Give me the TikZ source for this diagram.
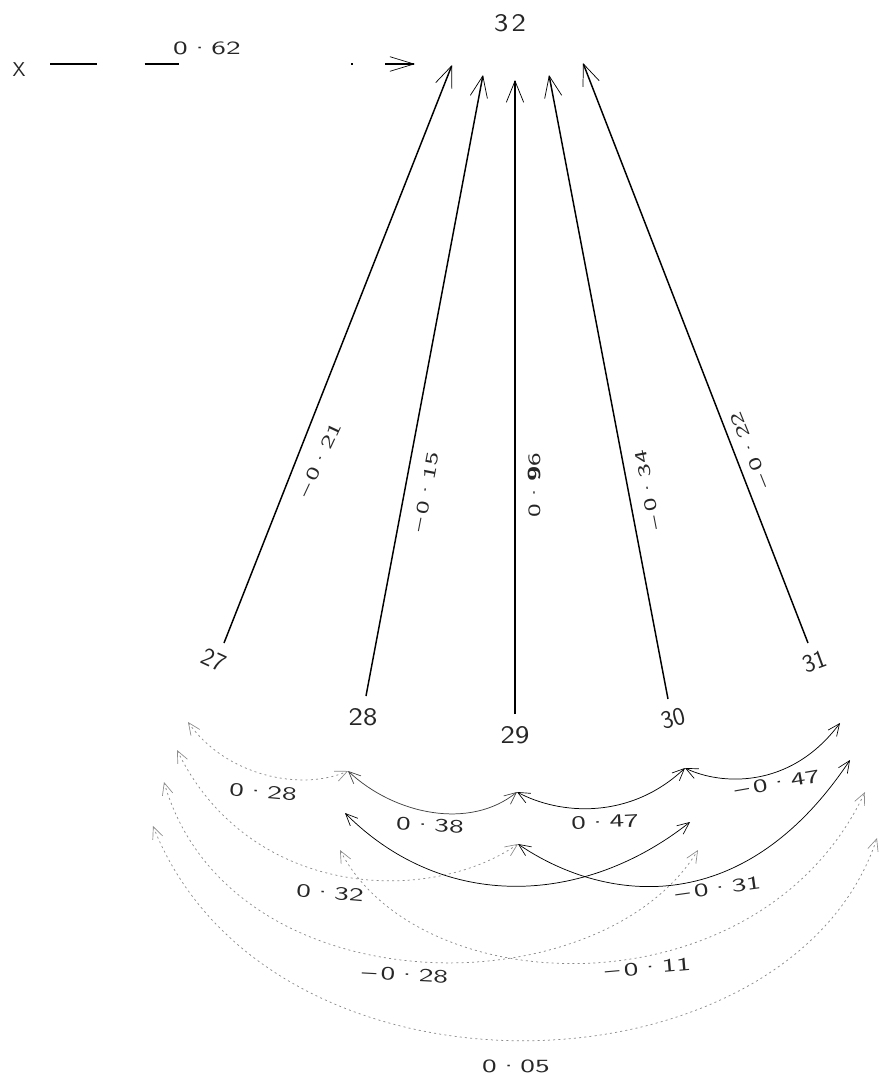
\documentclass[tikz,border=0pt]{standalone}
\usepackage{graphicx}
\usetikzlibrary{arrows.meta}
\newcommand\wx[1]{\scalebox{1.6}[1]{#1}}
\newcommand\wn[1]{\scalebox{1.2}[1]{#1}}
\newcommand\dt{\kern0.2pt\textperiodcentered\kern0.2pt}
\newcommand\mn{--\kern2pt}
\tikzset{
  numtxt/.style={font=\sffamily\fontsize{19}{19}\selectfont, inner sep=0pt, text=black!85},
  pathlab/.style={font=\sffamily\fontsize{13}{13}\selectfont, inner sep=0pt, text=black!85},
  corrlab/.style={font=\sffamily\fontsize{14}{14}\selectfont, inner sep=0pt, text=black!85},
  mainarrow/.style={line width=1.1pt, -{Straight Barb[length=16pt,width=13pt,line width=0.55pt]}},
  corr/.style={line width=0.55pt, {Straight Barb[length=9pt,width=8pt,line width=0.5pt]}-{Straight Barb[length=9pt,width=8pt,line width=0.5pt]}},
  faintcorr/.style={corr, draw=black!45, dash pattern=on 1.5pt off 2.4pt},
  xarrow/.style={line width=0.8pt, -{Straight Barb[length=18pt,width=11pt,line width=0.5pt]},
    dash pattern=on 35pt off 36pt on 26pt off 129pt on 1.5pt off 24pt on 40pt},
}
\begin{document}
\begin{tikzpicture}[x=0.75pt, y=-0.75pt]
\fill[white] (0,0) rectangle (880,1076);
\useasboundingbox (0,0) rectangle (880,1076);

% ---- nodes
\node[numtxt] (n32) at (510,23) {\wn{3\kern2pt2}};
\node[font=\sffamily\fontsize{15}{15}\selectfont, inner sep=0pt, text=black!85] (X) at (19,70) {X};
\node[numtxt, rotate=-25] (n27) at (214,660) {27};
\node[numtxt] (n28) at (363,717) {\wn{28}};
\node[numtxt] (n29) at (515,735) {\wn{29}};
\node[numtxt, rotate=15] (n30) at (673,718) {30};
\node[numtxt, rotate=20] (n31) at (815,662) {31};

% ---- main path coordinates
\coordinate (s27) at (224,643); \coordinate (t27) at (452,65);
\coordinate (s28) at (366,696); \coordinate (t28) at (483,75);
\coordinate (s29) at (515,714); \coordinate (t29) at (515,80);
\coordinate (s30) at (668,699); \coordinate (t30) at (549,75);
\coordinate (s31) at (808,643); \coordinate (t31) at (583,63);
\coordinate (xs) at (50,64); \coordinate (xe) at (415,64);

\draw[mainarrow] (s27) -- (t27);
\draw[mainarrow] (s28) -- (t28);
\draw[mainarrow] (s29) -- (t29);
\draw[mainarrow] (s30) -- (t30);
\draw[mainarrow] (s31) -- (t31);
\draw[xarrow] (xs) -- (xe);

% ---- path labels
\node[corrlab] (l62) at (207,48) {\wx{0\dt62}};
\node[pathlab, rotate=65] (l21) at (320,460) {\wx{\mn0\dt21}};
\node[pathlab, rotate=79] (l15) at (426,492) {\wx{\mn0\dt15}};
\node[pathlab, rotate=90] (l96) at (534,485) {\wx{0\dt\textbf{9}6}};
\node[pathlab, rotate=101] (l34) at (648,490) {\wx{\mn0\dt34}};
\node[pathlab, rotate=112] (l22) at (750,450) {\wx{\mn0\dt22}};

% ---- correlation tips
\coordinate (a27a) at (188,722); \coordinate (a27b) at (177,750);
\coordinate (a27c) at (164,782); \coordinate (a27d) at (153,826);
\coordinate (a28a) at (348,771); \coordinate (a28b) at (345,813);
\coordinate (a28c) at (340,850);
\coordinate (a29a) at (517,792); \coordinate (a29b) at (518,844);
\coordinate (a30a) at (685,768); \coordinate (a30b) at (690,822);
\coordinate (a30c) at (698,850);
\coordinate (a31a) at (840,723); \coordinate (a31b) at (850,760);
\coordinate (a31c) at (865,792); \coordinate (a31d) at (877,838);

% ---- correlations
\draw[faintcorr] (a27a) .. controls (225,775) and (300,792) .. (a28a);
\draw[corr, draw=black!75] (a28a) .. controls (395,815) and (470,830) .. (a29a);
\draw[corr] (a29a) .. controls (560,815) and (630,820) .. (a30a);
\draw[corr] (a30a) .. controls (720,785) and (790,790) .. (a31a);
\draw[faintcorr] (a27b) .. controls (250,900) and (430,905) .. (a29b);
\draw[corr] (a28b) .. controls (445,913) and (585,905) .. (a30b);
\draw[corr] (a29b) .. controls (600,900) and (740,925) .. (a31b);
\draw[faintcorr] (a27c) .. controls (230,1010) and (600,1010) .. (a30c);
\draw[faintcorr] (a28c) .. controls (420,1005) and (760,1015) .. (a31c);
\draw[faintcorr] (a27d) .. controls (270,1120) and (790,1100) .. (a31d);

% ---- correlation labels
\node[corrlab, rotate=-5] (c2728) at (263,792) {\wx{0\dt28}};
\node[corrlab, rotate=-3] (c2829) at (430,825) {\wx{0\dt38}};
\node[corrlab, rotate=3] (c2930) at (605,822) {\wx{0\dt47}};
\node[corrlab, rotate=10] (c3031) at (777,783) {\wx{\mn0\dt47}};
\node[corrlab, rotate=-5] (c2729) at (330,893) {\wx{0\dt32}};
\node[corrlab, rotate=8] (c2931) at (718,888) {\wx{\mn0\dt31}};
\node[corrlab, rotate=-3] (c2730) at (405,975) {\wx{\mn0\dt28}};
\node[corrlab, rotate=5] (c2831) at (648,968) {\wx{\mn0\dt11}};
\node[corrlab] (c2731) at (516,1066) {\wx{0\dt05}};
\end{tikzpicture}
\end{document}
